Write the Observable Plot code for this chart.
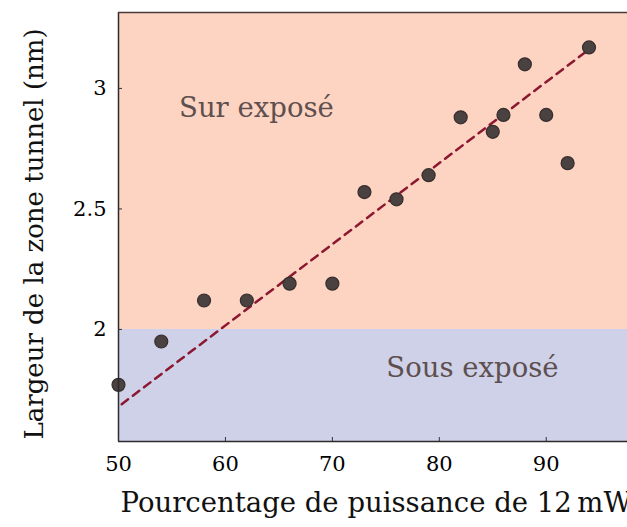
<!DOCTYPE html>
<html><head><meta charset="utf-8">
<script src="https://cdn.jsdelivr.net/npm/d3@7"></script>
<script src="https://cdn.jsdelivr.net/npm/@observablehq/plot@0.6"></script>
<style>body{margin:0;background:#fff;overflow:hidden}</style>
</head><body><div id="chart"></div>
<script>
const power = [50, 54, 58, 62, 66, 70, 73, 76, 79, 82, 85, 86, 88, 90, 92, 94];
const width = [1.77, 1.95, 2.12, 2.12, 2.19, 2.19, 2.57, 2.54, 2.64, 2.88, 2.82, 2.89, 3.10, 2.89, 2.69, 3.17];
const fitX = [50.3, 93.8];
const fitY = [1.69, 3.155];
const xTicks = [50, 60, 70, 80, 90];
const yTicks = [2, 2.5, 3];
const yTickLabels = ["2", "2.5", "3"];
const regionNames = ["Sur exposé", "Sous exposé"];
const regionLow = [2, 1.535];
const regionHigh = [3.315, 2];
const regionColors = ["#fdd3c1", "#cfd1e9"];
const labelX = [62.9, 83.1];
const labelY = [2.92, 1.84];
const xDomain = [50, 97.6];
const yDomain = [1.535, 3.315];

const pts = power.map((p, i) => ({x: p, y: width[i]}));
const fit = fitX.map((x, i) => ({x, y: fitY[i]}));
const regions = regionNames.map((n, i) => ({name: n, y1: regionLow[i], y2: regionHigh[i], c: regionColors[i], lx: labelX[i], ly: labelY[i]}));

const serif = "'DejaVu Serif', 'Liberation Serif', serif";
const chart = Plot.plot({
  width: 627, height: 527,
  marginLeft: 118, marginTop: 12, marginBottom: 86, marginRight: 0,
  style: {fontFamily: serif, background: "#fff", overflow: "visible"},
  x: {domain: xDomain},
  y: {domain: yDomain},
  marks: [
    Plot.rect(regions, {x1: xDomain[0], x2: xDomain[1], y1: "y1", y2: "y2", fill: "c"}),
    Plot.text(regions, {x: "lx", y: "ly", text: "name", fill: "#5e4f4f", fontSize: 27.5, fontFamily: serif}),
    Plot.line(fit, {x: "x", y: "y", stroke: "#8b1730", strokeWidth: 2.5, strokeDasharray: "8,6"}),
    Plot.dot(pts, {x: "x", y: "y", r: 6.5, fill: "#4a4141", stroke: "#362d2d", strokeWidth: 1.2}),
    Plot.ruleX([xDomain[0]], {stroke: "#2b2b2b", strokeWidth: 1.5}),
    Plot.ruleY([yDomain[0]], {stroke: "#2b2b2b", strokeWidth: 1.5}),
    Plot.ruleY([yDomain[1]], {stroke: "#4a3a3a", strokeWidth: 1.5}),
    Plot.axisX({ticks: xTicks, tickSize: -4, tickPadding: 19, fontSize: 21, label: null, tickFormat: d => String(d), stroke: "#333"}),
    Plot.axisY({ticks: yTicks, tickSize: -4, tickPadding: 16, fontSize: 21, label: null, tickFormat: (d) => yTickLabels[yTicks.indexOf(d)], stroke: "#333"}),
    Plot.text(["Pourcentage de puissance de 12\u2009mW"], {frameAnchor: "bottom-left", textAnchor: "start", dx: 2, dy: 70, fontSize: 27.5, fill: "#111", fontFamily: serif}),
    Plot.text(["Largeur de la zone tunnel (nm)"], {frameAnchor: "left", textAnchor: "middle", rotate: -90, dx: -84, dy: 7, fontSize: 26, fill: "#111", fontFamily: serif})
  ]
});
document.getElementById("chart").appendChild(chart);
</script></body></html>
